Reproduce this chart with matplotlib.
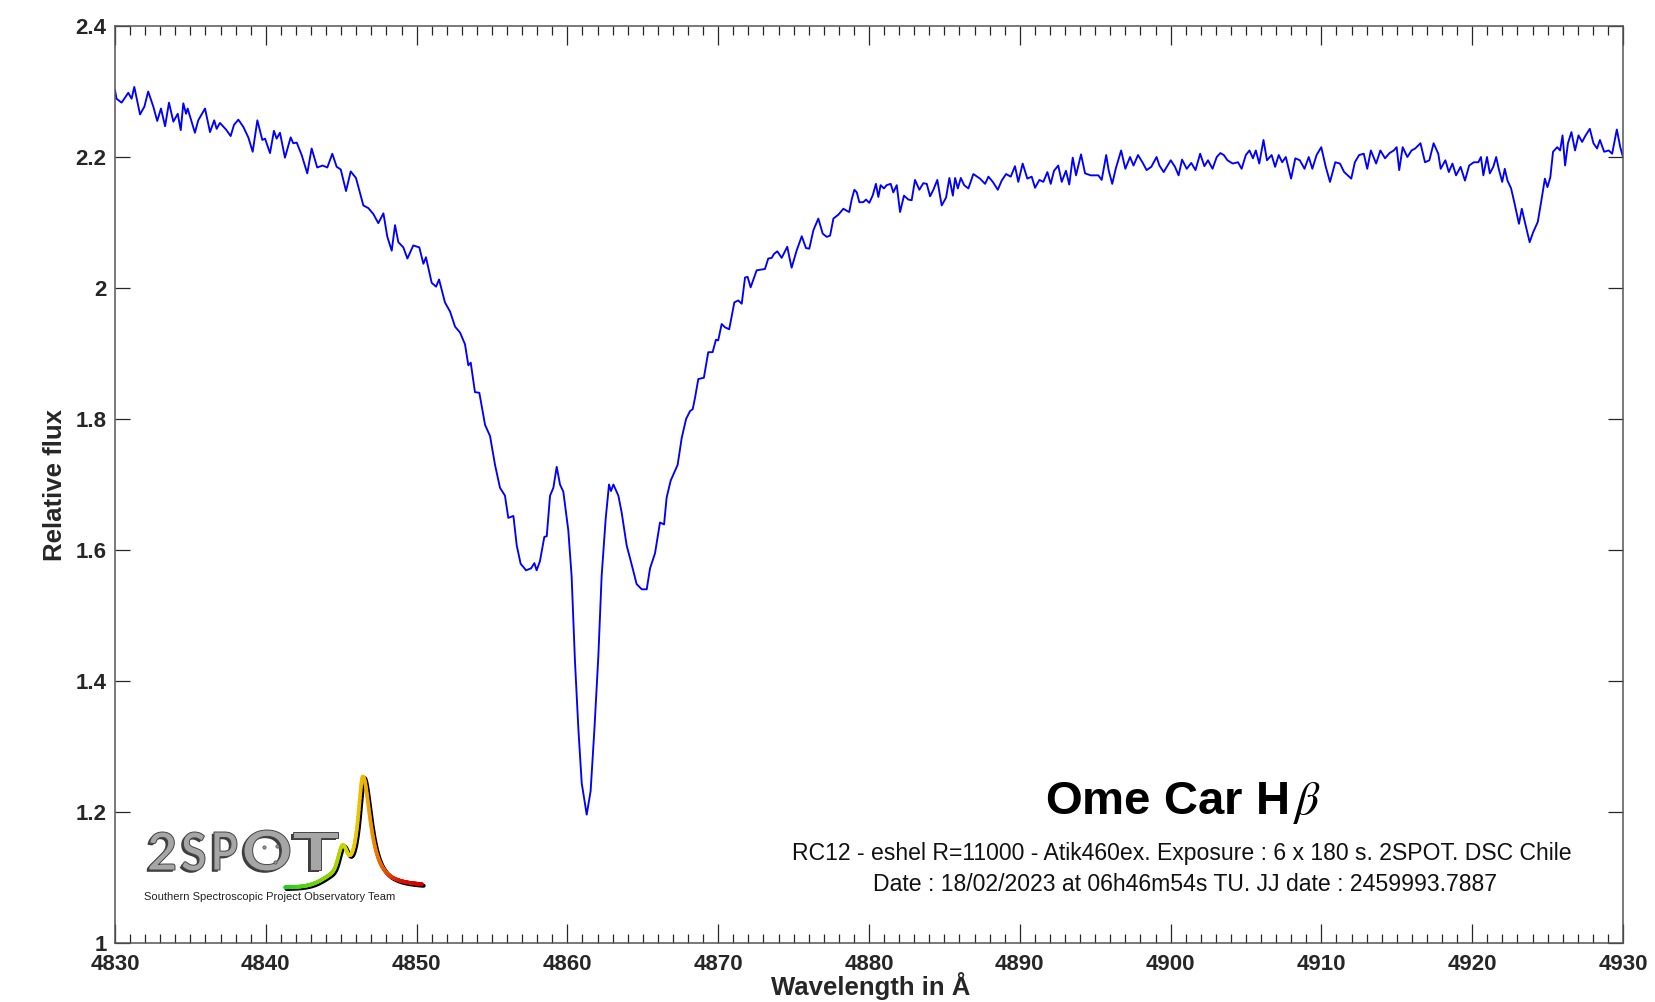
import numpy as np
import matplotlib
matplotlib.use("Agg")
import matplotlib.pyplot as plt
from matplotlib.collections import LineCollection
from matplotlib.colors import LinearSegmentedColormap
from matplotlib.textpath import TextPath
from matplotlib.patches import PathPatch
from matplotlib.font_manager import FontProperties
import matplotlib.transforms as mtrans

# Wavelength (Angstrom) and relative flux of the H-beta region
wavelength = [
    4830.00, 4830.10, 4830.44, 4830.88, 4831.10, 4831.28, 4831.66, 4831.95, 4832.20, 4832.54,
    4832.80, 4833.05, 4833.32, 4833.58, 4833.87, 4834.16, 4834.36, 4834.53, 4834.71, 4834.82,
    4835.30, 4835.52, 4835.97, 4836.30, 4836.58, 4836.74, 4836.96, 4837.36, 4837.67, 4837.89,
    4838.18, 4838.51, 4838.84, 4839.13, 4839.44, 4839.77, 4839.95, 4840.28, 4840.54, 4840.72,
    4840.94, 4841.27, 4841.65, 4841.82, 4842.05, 4842.38, 4842.75, 4843.04, 4843.41, 4843.77,
    4844.08, 4844.41, 4844.70, 4844.97, 4845.32, 4845.63, 4845.98, 4846.47, 4846.80, 4847.13,
    4847.46, 4847.80, 4848.06, 4848.35, 4848.57, 4848.79, 4849.12, 4849.39, 4849.78, 4850.18,
    4850.45, 4850.62,
    4851.00, 4851.29, 4851.49, 4851.88, 4852.22, 4852.55, 4852.88, 4853.21, 4853.43, 4853.59,
    4853.87, 4854.16, 4854.54, 4854.87, 4855.20, 4855.53, 4855.86, 4856.08, 4856.42, 4856.64,
    4856.90, 4857.26, 4857.59, 4857.81, 4857.96, 4858.18, 4858.47, 4858.63, 4858.85, 4859.07,
    4859.29, 4859.51, 4859.73, 4860.06, 4860.28, 4860.50, 4860.73, 4860.95, 4861.28, 4861.54,
    4861.79, 4862.05, 4862.27, 4862.54, 4862.76, 4862.89, 4863.05, 4863.38, 4863.60, 4863.93,
    4864.26, 4864.59, 4864.93, 4865.26, 4865.48, 4865.81, 4866.14, 4866.41, 4866.58, 4866.85,
    4867.14, 4867.31, 4867.58, 4867.87, 4868.13, 4868.31, 4868.46, 4868.68,
    4869.05, 4869.34, 4869.63, 4869.85, 4870.00, 4870.23, 4870.45, 4870.73, 4871.07, 4871.33,
    4871.56, 4871.78, 4871.95, 4872.15, 4872.55, 4873.10, 4873.32, 4873.55, 4873.70, 4873.92,
    4874.21, 4874.58, 4874.72, 4874.87, 4875.20, 4875.54, 4875.82, 4876.04, 4876.31, 4876.64,
    4876.93, 4877.20, 4877.42, 4877.64, 4877.97, 4878.30, 4878.52, 4878.69, 4878.85, 4879.03,
    4879.19, 4879.36, 4879.62, 4879.80, 4880.02, 4880.24, 4880.46, 4880.62, 4880.77, 4880.99,
    4881.17, 4881.44, 4881.61, 4881.84, 4882.06, 4882.32, 4882.61, 4882.83, 4883.05, 4883.34,
    4883.60, 4883.83, 4884.05, 4884.27, 4884.53, 4884.82, 4885.11, 4885.33, 4885.56, 4885.71,
    4885.89, 4886.09, 4886.31, 4886.59, 4886.92, 4887.36, 4887.70, 4887.92, 4888.21, 4888.54,
    4888.80, 4889.09, 4889.40, 4889.68, 4889.90, 4890.19, 4890.50, 4890.79, 4891.01, 4891.30,
    4891.56, 4891.83, 4892.05, 4892.27, 4892.55, 4892.78, 4893.06, 4893.28, 4893.51, 4893.73,
    4894.06, 4894.33, 4894.70, 4895.21, 4895.43,
    4895.73, 4895.89, 4896.13, 4896.36, 4896.72, 4897.00, 4897.31, 4897.54, 4897.84, 4898.13,
    4898.41, 4898.72, 4899.07, 4899.26, 4899.54, 4900.01, 4900.29, 4900.53, 4900.76, 4901.07,
    4901.37, 4901.65, 4901.96, 4902.24, 4902.48, 4902.78, 4903.06, 4903.30, 4903.53, 4903.77,
    4904.12, 4904.47, 4904.71, 4904.99, 4905.23, 4905.46, 4905.65, 4905.88, 4906.16, 4906.39,
    4906.70, 4906.93, 4907.17, 4907.40, 4907.64, 4907.99, 4908.27, 4908.57, 4908.88, 4909.16,
    4909.40, 4909.68, 4909.99, 4910.29, 4910.57, 4910.92, 4911.23, 4911.51, 4911.75, 4911.98,
    4912.22, 4912.50, 4912.81, 4913.04, 4913.28, 4913.63, 4913.91, 4914.22, 4914.52, 4914.80,
    4914.99, 4915.16, 4915.39, 4915.70, 4915.98, 4916.22, 4916.57, 4916.87, 4917.16, 4917.44,
    4917.75, 4917.91, 4918.22, 4918.45, 4918.69, 4918.93, 4919.23, 4919.52, 4919.80, 4920.11,
    4920.41, 4920.58, 4920.74, 4920.98, 4921.17, 4921.40, 4921.59, 4921.76, 4921.99, 4922.16,
    4922.34, 4922.58, 4922.81, 4923.10, 4923.29, 4923.52, 4923.81, 4924.04, 4924.35, 4924.59,
    4924.82, 4924.99, 4925.18, 4925.36, 4925.64, 4925.83, 4925.99, 4926.16, 4926.35, 4926.58,
    4926.82, 4927.05, 4927.29, 4927.52, 4927.80, 4928.04, 4928.28, 4928.47, 4928.75, 4929.05,
    4929.28, 4929.59, 4929.82, 4930.00,
]

flux = [
    2.302, 2.289, 2.283, 2.298, 2.289, 2.307, 2.265, 2.277, 2.300, 2.277,
    2.255, 2.274, 2.247, 2.283, 2.254, 2.266, 2.241, 2.282, 2.266, 2.274,
    2.237, 2.256, 2.274, 2.238, 2.256, 2.243, 2.252, 2.242, 2.232, 2.249,
    2.257, 2.246, 2.230, 2.208, 2.256, 2.226, 2.228, 2.206, 2.240, 2.228,
    2.237, 2.199, 2.230, 2.221, 2.222, 2.203, 2.175, 2.213, 2.184, 2.187,
    2.184, 2.205, 2.185, 2.181, 2.148, 2.178, 2.168, 2.126, 2.122, 2.113,
    2.099, 2.114, 2.078, 2.057, 2.096, 2.070, 2.062, 2.045, 2.065, 2.062,
    2.037, 2.047,
    2.008, 2.002, 2.013, 1.978, 1.964, 1.941, 1.932, 1.914, 1.882, 1.886,
    1.841, 1.840, 1.791, 1.774, 1.730, 1.695, 1.683, 1.649, 1.652, 1.607,
    1.579, 1.569, 1.572, 1.580, 1.569, 1.583, 1.620, 1.621, 1.683, 1.695,
    1.727, 1.700, 1.689, 1.630, 1.560, 1.431, 1.326, 1.244, 1.196, 1.232,
    1.326, 1.437, 1.560, 1.648, 1.700, 1.690, 1.700, 1.683, 1.657, 1.607,
    1.578, 1.548, 1.540, 1.540, 1.572, 1.595, 1.642, 1.639, 1.680, 1.706,
    1.721, 1.730, 1.771, 1.800, 1.812, 1.815, 1.832, 1.861,
    1.863, 1.902, 1.902, 1.921, 1.920, 1.945, 1.940, 1.937, 1.978, 1.981,
    1.976, 2.016, 2.017, 2.001, 2.027, 2.029, 2.045, 2.046, 2.052, 2.056,
    2.046, 2.063, 2.047, 2.031, 2.057, 2.079, 2.061, 2.060, 2.088, 2.106,
    2.083, 2.078, 2.080, 2.106, 2.112, 2.121, 2.118, 2.116, 2.135, 2.150,
    2.146, 2.131, 2.131, 2.135, 2.130, 2.141, 2.159, 2.139, 2.157, 2.152,
    2.157, 2.159, 2.146, 2.157, 2.116, 2.141, 2.135, 2.134, 2.165, 2.150,
    2.160, 2.159, 2.140, 2.150, 2.165, 2.126, 2.138, 2.168, 2.141, 2.168,
    2.152, 2.168, 2.157, 2.152, 2.174, 2.167, 2.159, 2.170, 2.162, 2.150,
    2.164, 2.174, 2.170, 2.186, 2.162, 2.190, 2.167, 2.170, 2.153, 2.165,
    2.162, 2.177, 2.159, 2.179, 2.187, 2.162, 2.179, 2.158, 2.199, 2.172,
    2.204, 2.175, 2.172, 2.172, 2.165,
    2.203, 2.180, 2.159, 2.182, 2.210, 2.182, 2.200, 2.187, 2.203, 2.192,
    2.180, 2.185, 2.200, 2.187, 2.177, 2.195, 2.185, 2.172, 2.196, 2.182,
    2.191, 2.180, 2.205, 2.186, 2.195, 2.182, 2.200, 2.206, 2.203, 2.195,
    2.190, 2.192, 2.182, 2.203, 2.210, 2.198, 2.210, 2.190, 2.226, 2.195,
    2.203, 2.185, 2.203, 2.192, 2.200, 2.167, 2.198, 2.195, 2.182, 2.200,
    2.182, 2.203, 2.215, 2.185, 2.162, 2.192, 2.190, 2.177, 2.172, 2.167,
    2.192, 2.203, 2.205, 2.182, 2.210, 2.190, 2.210, 2.198, 2.206, 2.210,
    2.215, 2.180, 2.215, 2.200, 2.210, 2.213, 2.221, 2.192, 2.195, 2.221,
    2.205, 2.182, 2.195, 2.177, 2.190, 2.172, 2.185, 2.164, 2.187, 2.192,
    2.192, 2.200, 2.172, 2.200, 2.175, 2.185, 2.200, 2.182, 2.162, 2.182,
    2.164, 2.152, 2.129, 2.098, 2.121, 2.098, 2.070, 2.085, 2.101, 2.134,
    2.167, 2.154, 2.169, 2.208, 2.215, 2.210, 2.233, 2.187, 2.221, 2.238,
    2.210, 2.233, 2.223, 2.233, 2.243, 2.221, 2.213, 2.226, 2.208, 2.210,
    2.205, 2.242, 2.215, 2.200,
]

x_ticks = [4830, 4840, 4850, 4860, 4870, 4880, 4890, 4900, 4910, 4920, 4930]
y_ticks = [1.0, 1.2, 1.4, 1.6, 1.8, 2.0, 2.2, 2.4]
y_tick_labels = ["1", "1.2", "1.4", "1.6", "1.8", "2", "2.2", "2.4"]

title_text = r"Ome Car H$\,\beta$"
info_line1 = "RC12 - eshel R=11000 - Atik460ex. Exposure : 6 x 180 s. 2SPOT. DSC Chile"
info_line2 = "Date : 18/02/2023 at 06h46m54s TU. JJ date : 2459993.7887"
team_name = "Southern Spectroscopic Project Observatory Team"

plt.rcParams["font.family"] = ["Liberation Sans", "DejaVu Sans"]
plt.rcParams["mathtext.fontset"] = "stix"

W, H = 1655, 1002
fig = plt.figure(figsize=(W / 100, H / 100), dpi=100)
fig.patch.set_facecolor("white")

ax_col = "#262626"
ax = fig.add_axes([115 / W, 1 - 943 / H, 1508 / W, 917 / H])
ax.plot(wavelength, flux, color="#0000ff", lw=1.35, solid_joinstyle="round")

ax.set_xlim(4830, 4930)
ax.set_ylim(1.0, 2.4)
ax.set_xticks(x_ticks)
ax.set_xticks(np.arange(4830, 4931, 1), minor=True)
ax.set_yticks(y_ticks)
ax.set_yticklabels(y_tick_labels)

for sp in ax.spines.values():
    sp.set_color("#555555")
    sp.set_linewidth(1.1)

ax.tick_params(axis="both", which="both", direction="in", top=True, right=True,
               color=ax_col, width=0.9, labelcolor=ax_col)
ax.tick_params(axis="x", which="major", length=14, pad=8, labelsize=16)
ax.tick_params(axis="x", which="minor", length=6.5)
ax.tick_params(axis="y", which="major", length=11, pad=6, labelsize=16)
for lab in ax.get_xticklabels() + ax.get_yticklabels():
    lab.set_fontweight("bold")

fig.text(871 / W, 1 - 995 / H, "Wavelength in Å", ha="center", va="baseline",
         fontsize=18.5, fontweight="bold", color=ax_col)
fig.text(55 / W, 1 - 485 / H, "Relative flux", ha="center", va="center",
         rotation=90, fontsize=18.5, fontweight="bold", color=ax_col)

# Target name and observation details
fig.text(1183 / W, 1 - 814 / H, title_text, ha="center", va="baseline",
         fontsize=34, fontweight="bold", color="black")
fig.text(1182 / W, 1 - 860 / H, info_line1, ha="center", va="baseline",
         fontsize=16.6, color="#111111")
fig.text(1185 / W, 1 - 891 / H, info_line2, ha="center", va="baseline",
         fontsize=16.6, color="#111111")

# 2SPOT team emblem, drawn in a small pixel-unit panel (y grows downward)
lg = fig.add_axes([135 / W, 1 - 905 / H, 300 / W, 135 / H])
lg.set_xlim(0, 300)
lg.set_ylim(135, 0)
lg.axis("off")

emblem_font = FontProperties(family=["Lato", "DejaVu Sans"], weight="bold")


def emblem_letter(ch, x0, x1, y0, y1):
    tp = TextPath((0, 0), ch, size=100, prop=emblem_font)
    bb = tp.get_extents()
    tr = (mtrans.Affine2D().translate(-bb.x0, -bb.y0)
          .scale((x1 - x0) / bb.width, -(y1 - y0) / bb.height)
          .translate(x0, y1))
    path = tr.transform_path(tp)
    shadow = mtrans.Affine2D().translate(-2.2, 1.8).transform_path(path)
    lg.add_patch(PathPatch(shadow, fc="#1c1c1c", ec="none", alpha=0.85))
    lg.add_patch(PathPatch(path, fc="#a6a6a6", ec="#444444", lw=0.7))


for ch, x0, x1, y0, y1 in [("2", 14, 40, 62, 100), ("S", 47, 70, 62, 101),
                           ("P", 79, 102, 62, 100), ("O", 109, 155, 60, 101),
                           ("T", 158, 203, 62, 100)]:
    emblem_letter(ch, x0, x1, y0, y1)
for dx, dy in [(129, 77), (142, 76), (140, 92)]:
    lg.plot(dx, dy, "o", ms=2.4, color="#909090", mec="#555555", mew=0.5)

# emblem spectrum profile with colour gradient
xs = np.linspace(150, 287, 400)
gam = np.where(xs < 228, 6.0, 9.2)
prof = (107 / (1 + ((xs - 228) / gam) ** 2)
        + 22 * np.exp(-((xs - 207.5) ** 2) / 32)
        + 12 * np.exp(-((xs - 205) ** 2) / 450))
ys = 118 - (xs - 150) * 0.01 - prof
pts = np.column_stack([xs, ys]).reshape(-1, 1, 2)
segs = np.concatenate([pts[:-1], pts[1:]], axis=1)
lg.plot(xs + 1.6, ys + 1.6, color="black", lw=3.0, solid_capstyle="round")
cmap = LinearSegmentedColormap.from_list(
    "emblem", [(0.0, "#19d419"), (0.35, "#9ad400"), (0.48, "#e6d400"),
               (0.58, "#f2b400"), (0.72, "#ea5a00"), (0.85, "#e01000"), (1.0, "#d40000")])
lc = LineCollection(segs, cmap=cmap, linewidths=2.6, capstyle="round")
lc.set_array((xs[:-1] - 150) / 137)
lc.set_clim(0, 1)
lg.add_collection(lc)
lg.text(135, 127, team_name, ha="center", va="center", fontsize=8, color="#222222")

fig.savefig("out.png", dpi=100, facecolor="white")
